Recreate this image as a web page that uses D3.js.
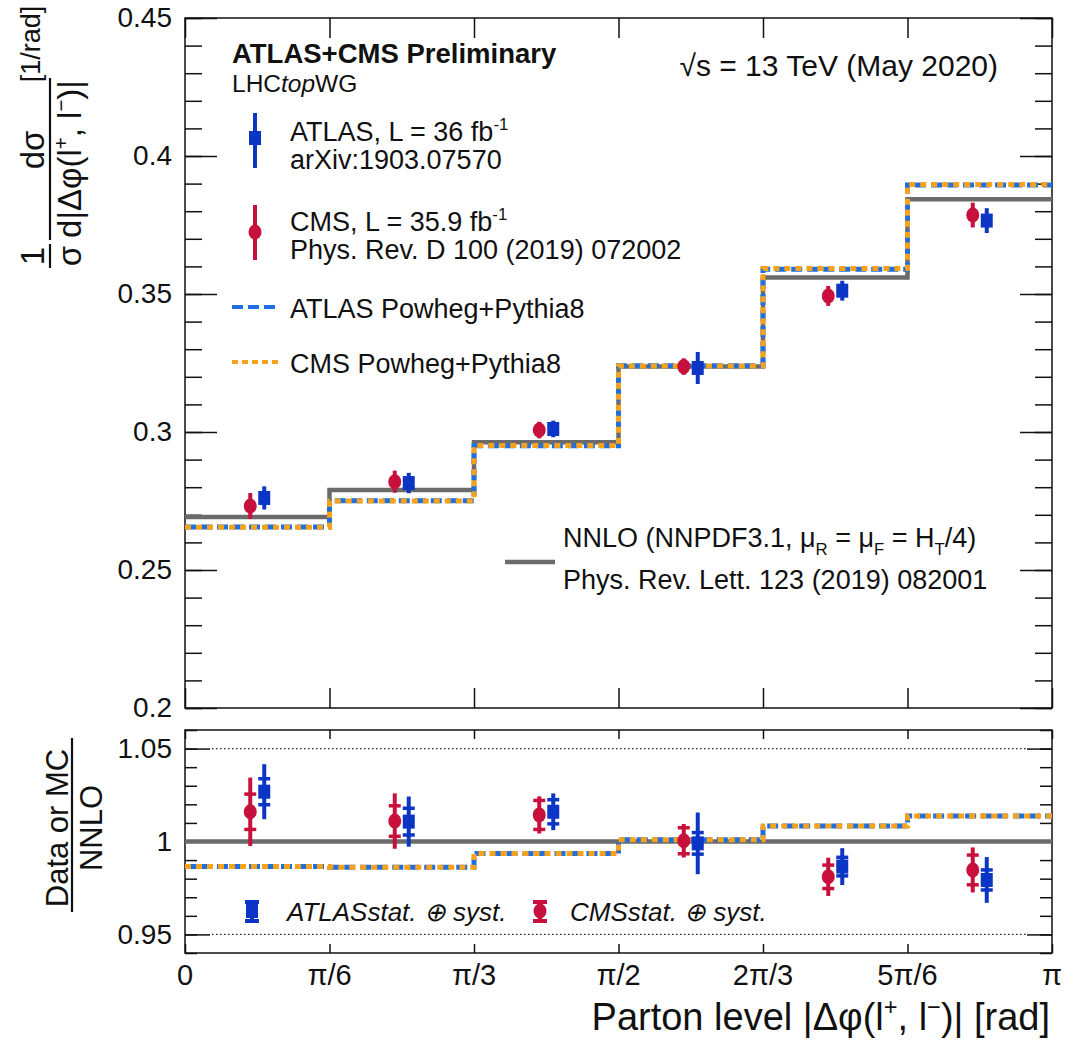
<!DOCTYPE html>
<html>
<head>
<meta charset="utf-8">
<script src="https://cdn.jsdelivr.net/npm/d3@7/dist/d3.min.js"></script>
<style>
  body { margin: 0; background: #fff; }
  text { font-family: "Liberation Sans", Arial, Helvetica, sans-serif; fill: #111; }
</style>
</head>
<body>
<script>
var width = 1067, height = 1041;
var pi = Math.PI;

// binning: 6 bins of pi/6 in |dphi(l+,l-)|
var edges = [0, pi / 6, pi / 3, pi / 2, 2 * pi / 3, 5 * pi / 6, pi];
var xTickLabels = ['0', 'π/6', 'π/3', 'π/2', '2π/3', '5π/6', 'π'];

// top panel: normalised cross-section [1/rad]
var nnlo    = [0.2692, 0.2790, 0.2963, 0.3237, 0.3560, 0.3843];
var atlasMC = [0.2656, 0.2751, 0.2950, 0.3240, 0.3590, 0.3895];
var cmsMC   = [0.2655, 0.2750, 0.2951, 0.3239, 0.3592, 0.3897];
var atlasData = [0.2761, 0.2815, 0.3011, 0.3232, 0.3512, 0.3766];
var atlasErr  = [0.0042, 0.0037, 0.0030, 0.0058, 0.0036, 0.0045];
var cmsData   = [0.2732, 0.2820, 0.3007, 0.3237, 0.3493, 0.3786];
var cmsErr    = [0.0047, 0.0040, 0.0030, 0.0030, 0.0036, 0.0045];

// bottom panel: ratio to NNLO
var atlasMCRatio = [0.9866, 0.9862, 0.9936, 1.0010, 1.0083, 1.0137];
var cmsMCRatio   = [0.9866, 0.9862, 0.9936, 1.0010, 1.0083, 1.0137];
var atlasRatio     = [1.0268, 1.0107, 1.0160, 0.9990, 0.9865, 0.9793];
var atlasRatioTot  = [0.0148, 0.0135, 0.0099, 0.0166, 0.0099, 0.0123];
var atlasRatioStat = [0.0070, 0.0072, 0.0065, 0.0058, 0.0050, 0.0054];
var cmsRatio     = [1.0160, 1.0110, 1.0143, 1.0004, 0.9810, 0.9847];
var cmsRatioTot  = [0.0184, 0.0149, 0.0100, 0.0090, 0.0103, 0.0121];
var cmsRatioStat = [0.0095, 0.0082, 0.0078, 0.0070, 0.0063, 0.0080];

var mainTicks = [0.2, 0.25, 0.3, 0.35, 0.4, 0.45];
var ratioTicks = [0.95, 1, 1.05];

var col = {
  atlas: '#0b35c4', cms: '#c8103c',
  atlasMC: '#1f6fe0', cmsMC: '#f6a21c', nnlo: '#6b6b6b'
};

var svg = d3.select('body').append('svg')
  .attr('width', width)
  .attr('height', height);

var x = d3.scaleLinear().domain([0, pi]).range([185, 1052]);
var yMain = d3.scaleLinear().domain([0.2, 0.45]).range([708, 18]);
var yRatio = d3.scaleLinear().domain([0.94, 1.06]).range([953, 730]);

function minorTicks(lo, hi, step) {
  var out = [];
  for (var v = lo; v <= hi + 1e-9; v += step) out.push(+v.toFixed(4));
  return out;
}
function fmt(d) { return String(+d.toFixed(2)); }

function stepPoints(vals) {
  return edges.map(function(e, i) { return [e, vals[Math.min(i, vals.length - 1)]]; });
}
function centre(i) { return (edges[i] + edges[i + 1]) / 2; }

// ---------- axes ----------
function drawFrame(y, top, bottom, major, minorStep, majLen, minLen, xLen) {
  var g = svg.append('g');
  var minor = minorTicks(y.domain()[0], y.domain()[1], minorStep);

  g.append('g').attr('transform', 'translate(185,0)')
    .call(d3.axisLeft(y).tickValues(minor).tickSize(-minLen).tickFormat(''));
  g.append('g').attr('transform', 'translate(185,0)')
    .call(d3.axisLeft(y).tickValues(major).tickSize(-majLen).tickPadding(13).tickFormat(fmt));
  g.append('g').attr('transform', 'translate(1052,0)')
    .call(d3.axisRight(y).tickValues(minor).tickSize(-minLen).tickFormat(''));
  g.append('g').attr('transform', 'translate(1052,0)')
    .call(d3.axisRight(y).tickValues(major).tickSize(-majLen).tickFormat(''));

  g.append('g').attr('transform', 'translate(0,' + bottom + ')')
    .call(d3.axisBottom(x).tickValues(edges).tickSize(-xLen).tickFormat(''));
  g.append('g').attr('transform', 'translate(0,' + top + ')')
    .call(d3.axisTop(x).tickValues(edges).tickSize(-xLen).tickFormat(''));

  g.selectAll('.domain').remove();
  g.selectAll('.tick line').attr('stroke', '#111').attr('stroke-width', 1.5);
  g.selectAll('.tick text').style('font-size', '28px').attr('fill', '#111');

  g.append('rect')
    .attr('x', 185).attr('y', top)
    .attr('width', 1052 - 185).attr('height', bottom - top)
    .attr('fill', 'none').attr('stroke', '#111').attr('stroke-width', 1.5);
  return g;
}

drawFrame(yMain, 18, 708, mainTicks, 0.01, 32, 17, 20);
drawFrame(yRatio, 730, 953, ratioTicks, 0.01, 25, 12, 9);

// x tick labels under the ratio panel
svg.append('g').selectAll('text')
  .data(edges)
  .enter().append('text')
  .attr('x', function(d) { return x(d); })
  .attr('y', 985)
  .attr('text-anchor', 'middle')
  .style('font-size', '29px')
  .text(function(d, i) { return xTickLabels[i]; });

// dotted reference lines in ratio
svg.append('g').selectAll('line')
  .data([0.95, 1.05])
  .enter().append('line')
  .attr('x1', x(0) + 27).attr('x2', x(pi) - 24)
  .attr('y1', function(d) { return yRatio(d); })
  .attr('y2', function(d) { return yRatio(d); })
  .attr('stroke', '#222').attr('stroke-width', 1.2)
  .attr('stroke-dasharray', '1.5,2.5');

// ---------- step histograms ----------
function stepLine(y) {
  return d3.line()
    .x(function(d) { return x(d[0]); })
    .y(function(d) { return y(d[1]); })
    .curve(d3.curveStepAfter);
}

var lineMain = stepLine(yMain), lineRatio = stepLine(yRatio);

svg.append('path').datum(stepPoints(nnlo))
  .attr('d', lineMain).attr('fill', 'none')
  .attr('stroke', col.nnlo).attr('stroke-width', 4.5);
svg.append('path').datum(stepPoints(atlasMC))
  .attr('d', lineMain).attr('fill', 'none')
  .attr('stroke', col.atlasMC).attr('stroke-width', 5).attr('stroke-dasharray', '11,5');
svg.append('path').datum(stepPoints(cmsMC))
  .attr('d', lineMain).attr('fill', 'none')
  .attr('stroke', col.cmsMC).attr('stroke-width', 5).attr('stroke-dasharray', '6,5');

svg.append('line')
  .attr('x1', x(0)).attr('x2', x(pi))
  .attr('y1', yRatio(1)).attr('y2', yRatio(1))
  .attr('stroke', col.nnlo).attr('stroke-width', 4.5);
svg.append('path').datum(stepPoints(atlasMCRatio))
  .attr('d', lineRatio).attr('fill', 'none')
  .attr('stroke', col.atlasMC).attr('stroke-width', 5).attr('stroke-dasharray', '11,5');
svg.append('path').datum(stepPoints(cmsMCRatio))
  .attr('d', lineRatio).attr('fill', 'none')
  .attr('stroke', col.cmsMC).attr('stroke-width', 5).attr('stroke-dasharray', '6,5');

// ---------- data points ----------
function marker(g, cx, cy, kind, colour) {
  if (kind === 'atlas') {
    g.append('rect').attr('x', cx - 6).attr('y', cy - 7)
      .attr('width', 12).attr('height', 14).attr('fill', colour);
  } else {
    g.append('ellipse').attr('cx', cx).attr('cy', cy)
      .attr('rx', 6.5).attr('ry', 7.5).attr('fill', colour);
  }
}

function drawPoints(y, vals, tot, stat, kind, colour, dx) {
  var g = svg.append('g');
  vals.forEach(function(v, i) {
    var cx = x(centre(i)) + dx;
    g.append('line')
      .attr('x1', cx).attr('x2', cx)
      .attr('y1', y(v - tot[i])).attr('y2', y(v + tot[i]))
      .attr('stroke', colour).attr('stroke-width', 4);
    if (stat) {
      [v - stat[i], v + stat[i]].forEach(function(s) {
        g.append('line')
          .attr('x1', cx - 6).attr('x2', cx + 6)
          .attr('y1', y(s)).attr('y2', y(s))
          .attr('stroke', colour).attr('stroke-width', 3.5);
      });
    }
    marker(g, cx, y(v), kind, colour);
  });
}

drawPoints(yMain, cmsData, cmsErr, null, 'cms', col.cms, -7);
drawPoints(yMain, atlasData, atlasErr, null, 'atlas', col.atlas, 7);
drawPoints(yRatio, cmsRatio, cmsRatioTot, cmsRatioStat, 'cms', col.cms, -7);
drawPoints(yRatio, atlasRatio, atlasRatioTot, atlasRatioStat, 'atlas', col.atlas, 7);

// ---------- text helpers ----------
function addText(xp, yp, size, parts, opts) {
  opts = opts || {};
  var t = svg.append('text')
    .attr('x', xp).attr('y', yp)
    .style('font-size', size + 'px')
    .attr('text-anchor', opts.anchor || 'start');
  if (opts.weight) t.style('font-weight', opts.weight);
  if (opts.italic) t.style('font-style', 'italic');
  parts.forEach(function(p) {
    if (typeof p === 'string') { t.append('tspan').text(p); return; }
    var s = t.append('tspan').text(p.t);
    if (p.italic) s.style('font-style', 'italic');
    if (p.sup) s.attr('dy', -size * 0.4).style('font-size', (size * 0.62) + 'px');
    if (p.sub) s.attr('dy', size * 0.3).style('font-size', (size * 0.62) + 'px');
    if (p.back) s.attr('dy', p.back);
  });
  return t;
}

// header
addText(232, 63, 27.5, ['ATLAS+CMS Preliminary'], { weight: 'bold' });
addText(232, 92, 24.5, ['LHC', { t: 'top', italic: true }, 'WG']);
addText(998, 76, 30, ['√s = 13 TeV (May 2020)'], { anchor: 'end' });

// legend: data
var leg = svg.append('g');
leg.append('line').attr('x1', 255).attr('x2', 255).attr('y1', 113).attr('y2', 168)
  .attr('stroke', col.atlas).attr('stroke-width', 4);
marker(leg, 255, 138, 'atlas', col.atlas);
leg.append('line').attr('x1', 255).attr('x2', 255).attr('y1', 205).attr('y2', 260)
  .attr('stroke', col.cms).attr('stroke-width', 4);
marker(leg, 255, 232, 'cms', col.cms);

addText(290, 141, 27, ['ATLAS, L = 36 fb', { t: '-1', sup: true }]);
addText(290, 169, 27, ['arXiv:1903.07570']);
addText(290, 231, 27, ['CMS, L = 35.9 fb', { t: '-1', sup: true }]);
addText(290, 259, 27, ['Phys. Rev. D 100 (2019) 072002']);

leg.append('line').attr('x1', 232).attr('x2', 280).attr('y1', 307).attr('y2', 307)
  .attr('stroke', col.atlasMC).attr('stroke-width', 4).attr('stroke-dasharray', '11,5');
addText(290, 318, 27, ['ATLAS Powheg+Pythia8']);
leg.append('line').attr('x1', 232).attr('x2', 280).attr('y1', 362).attr('y2', 362)
  .attr('stroke', col.cmsMC).attr('stroke-width', 4).attr('stroke-dasharray', '6,4');
addText(290, 373, 27, ['CMS Powheg+Pythia8']);

leg.append('line').attr('x1', 505).attr('x2', 555).attr('y1', 562).attr('y2', 562)
  .attr('stroke', col.nnlo).attr('stroke-width', 4.5);
addText(563, 547, 27, ['NNLO (NNPDF3.1, μ', { t: 'R', sub: true }, { t: ' = μ', back: -8.1 },
  { t: 'F', sub: true }, { t: ' = H', back: -8.1 }, { t: 'T', sub: true }, { t: '/4)', back: -8.1 }]);
addText(563, 589, 27, ['Phys. Rev. Lett. 123 (2019) 082001']);

// ratio legend
function capMarker(cx, kind, colour) {
  var g = svg.append('g');
  g.append('line').attr('x1', cx).attr('x2', cx).attr('y1', 901).attr('y2', 922)
    .attr('stroke', colour).attr('stroke-width', 4);
  [902, 921].forEach(function(yy) {
    g.append('line').attr('x1', cx - 7).attr('x2', cx + 7).attr('y1', yy).attr('y2', yy)
      .attr('stroke', colour).attr('stroke-width', 4);
  });
  marker(g, cx, 911, kind, colour);
}
capMarker(252, 'atlas', col.atlas);
addText(287, 921, 26, ['ATLASstat. ⊕ syst.'], { italic: true });
capMarker(540, 'cms', col.cms);
addText(570, 921, 26, ['CMSstat. ⊕ syst.'], { italic: true });

// x-axis title
addText(1050, 1030, 38, ['Parton level ', '|', 'Δφ(l', { t: '+', sup: true },
  { t: ', l', back: 15.2 }, { t: '−', sup: true }, { t: ')| [rad]', back: 15.2 }], { anchor: 'end' });

// ---------- rotated y titles ----------
var yt = svg.append('g').attr('transform', 'rotate(-90)');
function rtext(X, Y, size, parts, anchor) {
  var t = yt.append('text').attr('x', -Y).attr('y', X)
    .attr('text-anchor', anchor || 'middle').style('font-size', size + 'px');
  parts.forEach(function(p) {
    if (typeof p === 'string') { t.append('tspan').text(p); return; }
    var s = t.append('tspan').text(p.t);
    if (p.sup) s.attr('dy', -size * 0.4).style('font-size', (size * 0.62) + 'px');
    if (p.back) s.attr('dy', p.back);
  });
}
function rbar(X, Y1, Y2) {
  yt.append('line').attr('x1', -Y1).attr('x2', -Y2).attr('y1', X).attr('y2', X)
    .attr('stroke', '#111').attr('stroke-width', 2.2);
}

rtext(44, 256, 33, ['1']);
rbar(50, 244, 268);
rtext(81, 256, 33, ['σ']);
rtext(44, 150, 33, ['dσ']);
rbar(50, 78, 240);
rtext(81, 159, 33, ['d|Δφ(l', { t: '+', sup: true }, { t: ', l', back: 13.2 },
  { t: '−', sup: true }, { t: ')|', back: 13.2 }]);
rtext(40, 44, 27, ['[1/rad]']);

rtext(68, 828, 31, ['Data or MC']);
rbar(72, 738, 912);
rtext(102, 828, 31, ['NNLO']);
</script>
</body>
</html>
